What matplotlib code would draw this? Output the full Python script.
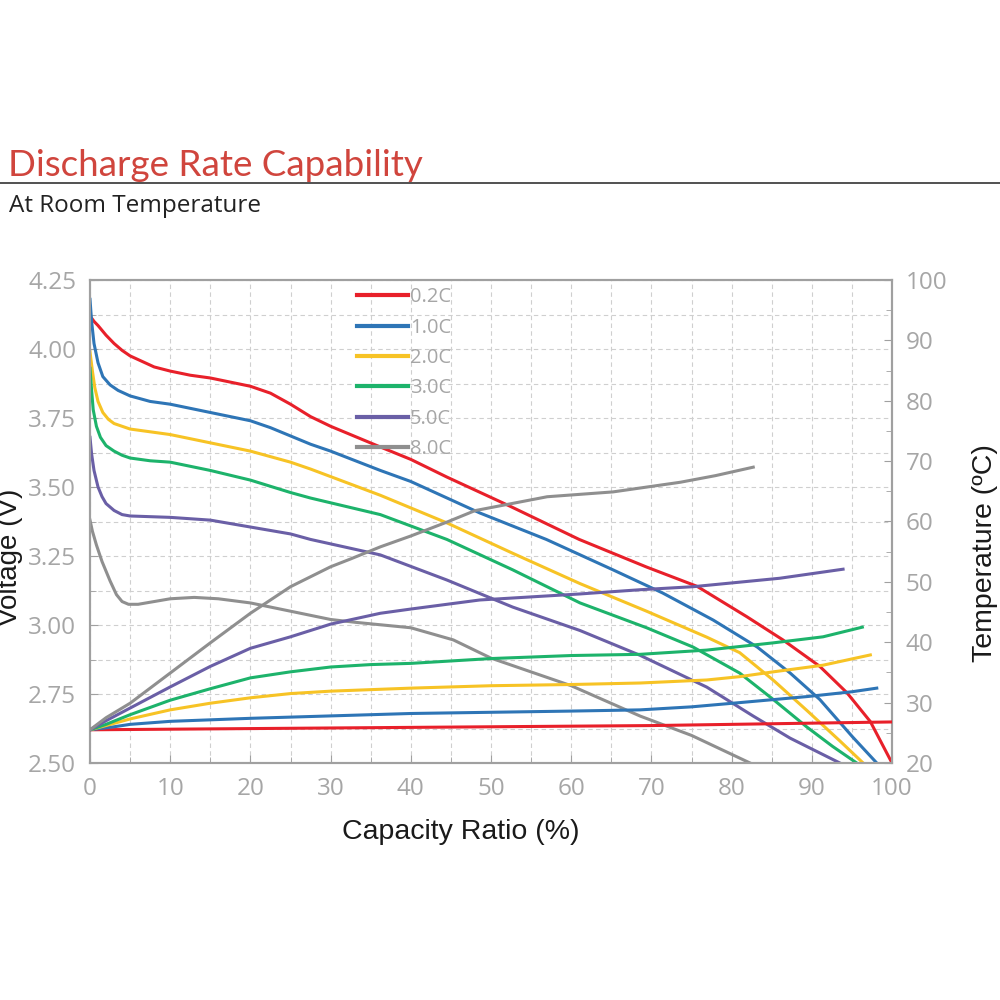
import matplotlib
matplotlib.use("Agg")
import matplotlib.pyplot as plt
from matplotlib.ticker import MultipleLocator, FormatStrFormatter

# --- voltage curves (capacity %, V) ---
v02_x = [0, 0.5, 1, 2, 3, 4, 5, 6.5, 8, 10, 12.5, 15, 17.5, 20, 22.5, 25, 27.5, 30, 36.2, 40, 44.5, 52.4, 61, 69.4, 75.7, 81.9, 86.4, 91, 94.4, 97.3, 100]
v02_y = [4.12, 4.10, 4.085, 4.05, 4.02, 3.995, 3.975, 3.955, 3.935, 3.92, 3.905, 3.895, 3.88, 3.865, 3.84, 3.80, 3.755, 3.72, 3.645, 3.60, 3.536, 3.43, 3.31, 3.21, 3.14, 3.03, 2.946, 2.85, 2.754, 2.65, 2.50]

v10_x = [0, 0.2, 0.5, 1, 1.6, 2.5, 3.5, 5, 7.5, 10, 12.5, 15, 17.5, 20, 22.5, 25, 27.5, 30, 36.2, 40, 48.6, 56.9, 65.2, 71.4, 77.7, 83.2, 87.3, 91, 95.1, 98.1]
v10_y = [4.18, 4.10, 4.02, 3.95, 3.90, 3.87, 3.85, 3.83, 3.81, 3.80, 3.785, 3.77, 3.755, 3.74, 3.715, 3.685, 3.655, 3.63, 3.56, 3.52, 3.406, 3.31, 3.20, 3.116, 3.018, 2.92, 2.826, 2.73, 2.594, 2.50]

v20_x = [0, 0.3, 0.6, 1, 1.6, 2.3, 3, 4, 5, 7.5, 10, 15, 20, 25, 27.5, 36.2, 44.5, 52.7, 61.1, 69.4, 76.9, 81, 85.2, 89.4, 93.5, 96.4]
v20_y = [3.99, 3.92, 3.86, 3.81, 3.77, 3.745, 3.73, 3.72, 3.71, 3.70, 3.69, 3.66, 3.63, 3.59, 3.565, 3.47, 3.37, 3.26, 3.15, 3.05, 2.956, 2.90, 2.80, 2.69, 2.58, 2.50]

v30_x = [0, 0.2, 0.4, 0.8, 1.3, 2, 3, 4, 5, 7.5, 10, 15, 20, 25, 27.5, 36.2, 44.5, 52.7, 61.1, 69.4, 75.2, 81, 85.2, 89.4, 92.6, 95.6]
v30_y = [3.93, 3.85, 3.78, 3.72, 3.68, 3.65, 3.63, 3.615, 3.605, 3.595, 3.59, 3.56, 3.525, 3.48, 3.46, 3.40, 3.31, 3.20, 3.08, 2.99, 2.92, 2.826, 2.73, 2.63, 2.56, 2.50]

v50_x = [0, 0.2, 0.5, 1, 1.5, 2, 3, 4, 5, 10, 15, 20, 25, 27.5, 36.2, 44.5, 52.7, 61.1, 68.6, 76.9, 82.7, 87.3, 93.5]
v50_y = [3.68, 3.62, 3.56, 3.50, 3.465, 3.44, 3.415, 3.40, 3.395, 3.39, 3.38, 3.355, 3.33, 3.31, 3.254, 3.163, 3.065, 2.98, 2.89, 2.775, 2.67, 2.59, 2.50]

v80_x = [0, 0.3, 0.8, 1.5, 2.5, 3.3, 4, 4.8, 6, 8, 10, 13, 16, 20, 25, 30, 33, 40, 45.3, 50, 60, 68.6, 75, 82.3]
v80_y = [3.38, 3.34, 3.29, 3.23, 3.16, 3.11, 3.085, 3.075, 3.075, 3.085, 3.095, 3.10, 3.095, 3.08, 3.05, 3.02, 3.01, 2.99, 2.946, 2.88, 2.78, 2.67, 2.60, 2.50]

# --- temperature curves (capacity %, degC) ---
t02_x = [0, 10, 20, 30, 40, 50, 60, 70, 80, 90, 100]
t02_y = [25.5, 25.6, 25.7, 25.8, 25.9, 26.0, 26.1, 26.2, 26.4, 26.6, 26.8]

t10_x = [0, 3, 5, 10, 20, 30, 40, 50, 60, 68.6, 75, 81, 89.4, 95, 98.1]
t10_y = [25.5, 26.0, 26.4, 26.9, 27.4, 27.8, 28.2, 28.4, 28.6, 28.8, 29.3, 30.0, 31.0, 31.8, 32.4]

t20_x = [0, 2, 5, 10, 15, 20, 25, 30, 40, 50, 60, 68.6, 76.9, 81, 85.2, 91.4, 97.3]
t20_y = [25.5, 26.2, 27.3, 28.8, 29.9, 30.8, 31.5, 31.9, 32.4, 32.8, 33.0, 33.25, 33.75, 34.3, 35.1, 36.2, 37.9]

t30_x = [0, 2, 5, 10, 15, 20, 25, 30, 35, 40, 50, 60, 68.6, 76.9, 85.2, 91.4, 96.3]
t30_y = [25.5, 26.4, 28.0, 30.4, 32.3, 34.1, 35.1, 35.9, 36.3, 36.5, 37.3, 37.8, 38.0, 38.7, 39.9, 40.9, 42.5]

t50_x = [0, 2, 5, 10, 15, 20, 25, 30, 36.2, 40, 48.6, 61.1, 68.6, 75.2, 86, 93.9]
t50_y = [25.5, 27.0, 29.1, 32.6, 36.0, 39.0, 40.9, 43.0, 44.8, 45.5, 47.0, 48.0, 48.7, 49.2, 50.6, 52.1]

t80_x = [0, 2, 5, 10, 15, 20, 25, 30, 32.5, 36.2, 40, 44.5, 48, 52.7, 57, 65.2, 73.6, 78, 82.7]
t80_y = [25.5, 27.5, 29.9, 34.9, 39.9, 44.8, 49.2, 52.5, 53.8, 55.8, 57.6, 59.9, 61.8, 63.0, 64.1, 64.9, 66.5, 67.6, 69.0]

rates = ["0.2C", "1.0C", "2.0C", "3.0C", "5.0C", "8.0C"]
colors = ["#e8202a", "#2e75b6", "#f7c325", "#1db36b", "#6a5fa6", "#8f8f8f"]
volt = [(v02_x, v02_y), (v10_x, v10_y), (v20_x, v20_y), (v30_x, v30_y), (v50_x, v50_y), (v80_x, v80_y)]
temp = [(t02_x, t02_y), (t10_x, t10_y), (t20_x, t20_y), (t30_x, t30_y), (t50_x, t50_y), (t80_x, t80_y)]

fig = plt.figure(figsize=(10, 10), dpi=100)
ax = fig.add_axes([0.09, 0.237, 0.802, 0.483])
ax2 = ax.twinx()

tick_grey = "#a6a6a6"
spine_grey = "#a0a0a0"

for (x, y), c, lab in zip(volt, colors, rates):
    ax.plot(x, y, color=c, lw=2.2, label=lab, zorder=3, solid_joinstyle="round")
for (x, y), c in zip(temp, colors):
    ax2.plot(x, y, color=c, lw=2.2, zorder=3, solid_joinstyle="round")

ax.set_xlim(0, 100)
ax.set_ylim(2.5, 4.25)
ax2.set_ylim(20, 100)
ax.xaxis.set_major_locator(MultipleLocator(10))
ax.xaxis.set_minor_locator(MultipleLocator(5))
ax.yaxis.set_major_locator(MultipleLocator(0.25))
ax.yaxis.set_minor_locator(MultipleLocator(0.125))
ax2.yaxis.set_major_locator(MultipleLocator(10))
ax2.yaxis.set_minor_locator(MultipleLocator(5))
ax.yaxis.set_major_formatter(FormatStrFormatter("%.2f"))

ax.grid(which="both", color="#cfcfcf", linestyle=(0, (4, 3)), lw=0.8)
ax.set_axisbelow(True)

for a in (ax, ax2):
    for s in a.spines.values():
        s.set_color(spine_grey)
        s.set_linewidth(1.5)
    a.tick_params(which="both", direction="in", colors=spine_grey, labelcolor=tick_grey,
                  labelsize=17.5, pad=10)
    a.tick_params(which="major", length=6)
    a.tick_params(which="minor", length=4)
for lbl in ax.get_xticklabels() + ax.get_yticklabels() + ax2.get_yticklabels():
    lbl.set_family("Open Sans")

ax.set_xlabel("Capacity Ratio (%)", fontsize=20.5, family="Liberation Sans", color="#1a1a1a")
ax.xaxis.set_label_coords(0.4625, -0.116)
fig.text(0.010, 0.443, "Voltage (V)", rotation=90, ha="center", va="center",
         fontsize=20, family="Liberation Sans", color="#1a1a1a")
fig.text(0.985, 0.447, "Temperature (ºC)", rotation=90, ha="center", va="center",
         fontsize=20.5, family="Liberation Sans", color="#1a1a1a")

leg = ax.legend(loc="upper left", bbox_to_anchor=(0.31, 1.022), frameon=False,
                handlelength=2.55, handletextpad=0.1, labelspacing=0.51,
                prop={"family": "Open Sans", "size": 14.5})
for t in leg.get_texts():
    t.set_color(tick_grey)
for h in leg.get_lines():
    h.set_linewidth(3)

# header
fig.text(0.008, 0.835, "Discharge Rate Capability", fontsize=26.5, family="Lato",
         color="#d0453d", ha="left", va="center")
fig.add_artist(plt.Line2D([0, 1], [0.817, 0.817], color="#333333", lw=1.2))
fig.text(0.009, 0.794, "At Room Temperature", fontsize=17.5, family="Open Sans",
         color="#222222", ha="left", va="center")

fig.savefig("out.png", dpi=100, facecolor="white")
